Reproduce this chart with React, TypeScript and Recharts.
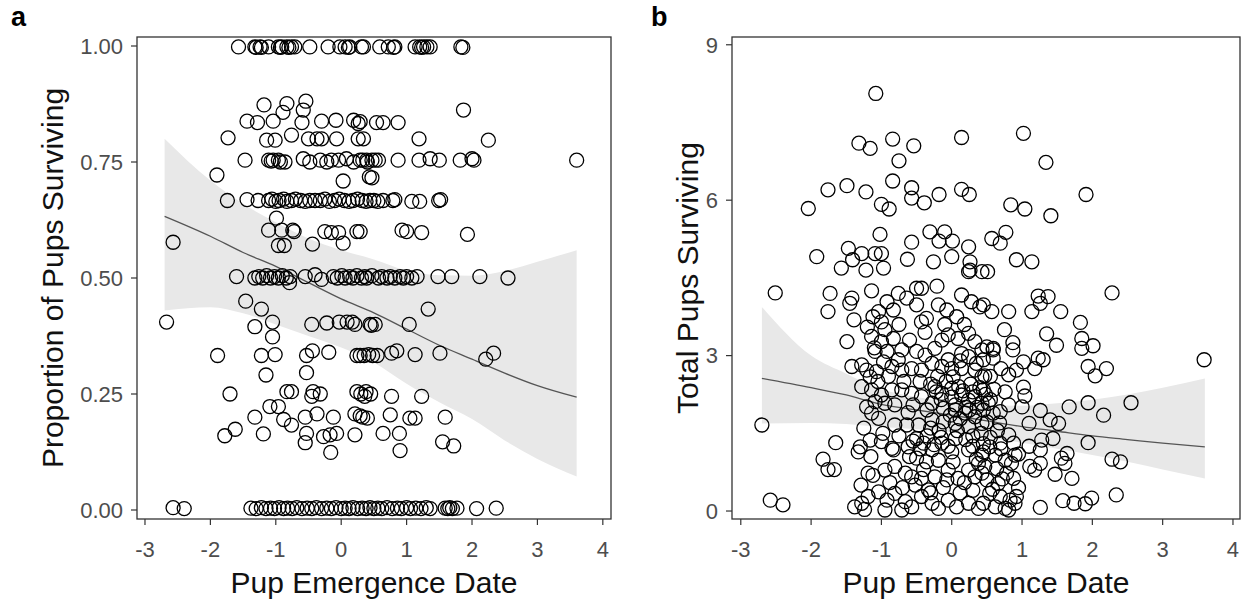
import React from 'react';
import { ComposedChart, Area, Line, Scatter, XAxis, YAxis } from 'recharts';

// emergence date ticks, shared by both panels
const X_TICKS = [-3, -2, -1, 0, 1, 2, 3, 4];
const PROP_TICKS = [0, 0.25, 0.5, 0.75, 1];
const TOTAL_TICKS = [0, 3, 6, 9];

// panel a: proportion of pups surviving vs emergence date [x, y]
const propPoints: [number, number][] = [
  // 1.00 row
  [-1.57, 0.998], [-1.32, 0.998], [-1.3, 0.997], [-1.24, 0.998], [-1.22, 0.997], [-1.11, 0.998], [-0.96, 0.998],
  [-0.93, 0.997], [-0.91, 0.998], [-0.83, 0.998], [-0.8, 0.997], [-0.76, 0.998], [-0.71, 0.998], [-0.48, 0.998],
  [-0.2, 0.998], [-0.02, 0.998], [0.06, 0.998], [0.11, 0.997], [0.13, 0.998], [0.31, 0.998], [0.34, 0.998],
  [0.59, 0.998], [0.72, 0.998], [0.8, 0.997], [0.82, 0.998], [1.13, 0.998], [1.2, 0.998], [1.23, 0.997],
  [1.26, 0.998], [1.31, 0.998], [1.36, 0.998], [1.83, 0.998], [1.86, 0.997],
  // 0.83 - 0.88
  [-1.18, 0.873], [-0.83, 0.876], [-0.54, 0.881], [-0.58, 0.862], [-0.89, 0.857], [1.87, 0.862],
  [-1.44, 0.838], [-1.28, 0.835], [-1.04, 0.838], [-0.6, 0.835], [-0.3, 0.838], [-0.08, 0.84], [0.19, 0.84],
  [0.26, 0.833], [0.29, 0.837], [0.54, 0.835], [0.64, 0.835], [0.87, 0.835],
  // 0.80
  [-1.73, 0.802], [-1.14, 0.797], [-1.01, 0.797], [-0.76, 0.808], [-0.5, 0.8], [-0.37, 0.8], [-0.3, 0.8],
  [-0.07, 0.8], [0.26, 0.8], [0.34, 0.8], [1.19, 0.8], [2.25, 0.797],
  // 0.75
  [-1.47, 0.754], [-1.9, 0.722], [-1.11, 0.754], [-1.07, 0.752], [-1.04, 0.754], [-0.96, 0.754], [-0.93, 0.75],
  [-0.86, 0.75], [-0.58, 0.757], [-0.48, 0.75], [-0.32, 0.754], [-0.22, 0.75], [-0.15, 0.754], [-0.04, 0.754],
  [0.08, 0.757], [0.19, 0.75], [0.29, 0.754], [0.33, 0.754], [0.39, 0.754], [0.4, 0.75], [0.47, 0.754],
  [0.52, 0.754], [0.57, 0.754], [0.03, 0.709], [0.43, 0.718], [0.47, 0.716], [0.87, 0.754], [1.19, 0.754],
  [1.36, 0.757], [1.5, 0.754], [1.82, 0.754], [2.0, 0.757], [2.03, 0.754], [3.6, 0.754],
  // 0.67
  [-1.74, 0.667], [-1.44, 0.669], [-1.27, 0.667], [-1.11, 0.667], [-1.06, 0.67], [-1.0, 0.665], [-0.95, 0.667],
  [-0.88, 0.67], [-0.83, 0.665], [-0.76, 0.667], [-0.7, 0.67], [-0.62, 0.667], [-0.55, 0.665], [-0.48, 0.667],
  [-0.4, 0.667], [-0.32, 0.667], [-0.25, 0.67], [-0.18, 0.665], [-0.1, 0.667], [-0.03, 0.67], [0.05, 0.667],
  [0.12, 0.665], [0.18, 0.667], [0.25, 0.67], [0.32, 0.667], [0.38, 0.665], [0.44, 0.667], [0.5, 0.667],
  [0.56, 0.665], [0.64, 0.667], [0.79, 0.667], [0.82, 0.669], [1.08, 0.665], [1.2, 0.665], [1.49, 0.667],
  [1.52, 0.669],
  // 0.57 - 0.63
  [-0.99, 0.629], [-1.11, 0.603], [-0.91, 0.603], [-0.74, 0.603], [-0.72, 0.6], [-0.96, 0.57], [-0.87, 0.57],
  [-0.44, 0.573], [-0.25, 0.6], [-0.15, 0.598], [-0.04, 0.598], [0.03, 0.575], [0.24, 0.6], [0.29, 0.6],
  [0.93, 0.603], [1.0, 0.6], [1.23, 0.598], [1.93, 0.594], [-2.57, 0.577],
  // 0.50
  [-1.6, 0.503], [-1.32, 0.5], [-1.26, 0.503], [-1.2, 0.5], [-1.14, 0.505], [-1.08, 0.5], [-1.02, 0.503],
  [-0.96, 0.5], [-0.9, 0.505], [-0.84, 0.5], [-0.78, 0.503], [-0.79, 0.49], [-0.55, 0.503], [-0.4, 0.507],
  [-0.3, 0.497], [-0.12, 0.503], [-0.06, 0.5], [0.01, 0.505], [0.06, 0.5], [0.13, 0.503], [0.18, 0.5],
  [0.24, 0.505], [0.31, 0.5], [0.36, 0.503], [0.39, 0.5], [0.47, 0.505], [0.57, 0.5], [0.62, 0.503],
  [0.7, 0.5], [0.75, 0.503], [0.82, 0.5], [0.9, 0.503], [0.95, 0.5], [1.0, 0.503], [1.08, 0.5],
  [1.16, 0.503], [1.48, 0.503], [1.69, 0.503], [2.12, 0.503], [2.55, 0.5],
  // 0.40 - 0.45
  [-1.46, 0.45], [-1.22, 0.433], [1.33, 0.433],
  [-2.67, 0.405], [-1.32, 0.395], [-1.05, 0.405], [-1.05, 0.373], [-0.45, 0.4], [-0.22, 0.403], [-0.03, 0.405],
  [0.09, 0.405], [0.17, 0.405], [0.21, 0.4], [0.44, 0.4], [0.46, 0.398], [0.52, 0.4], [1.04, 0.4],
  // 0.33
  [-1.89, 0.333], [-1.22, 0.333], [-1.01, 0.335], [-0.53, 0.333], [-0.44, 0.343], [-0.19, 0.34], [-0.53, 0.296],
  [-1.15, 0.291], [0.24, 0.333], [0.29, 0.333], [0.35, 0.333], [0.42, 0.335], [0.48, 0.333], [0.55, 0.333],
  [0.77, 0.338], [0.85, 0.343], [1.13, 0.335], [1.51, 0.338], [2.21, 0.325], [2.33, 0.338],
  // 0.25
  [-1.7, 0.25], [-0.83, 0.255], [-0.76, 0.255], [-0.43, 0.255], [-0.32, 0.25], [-0.45, 0.245], [-1.09, 0.223],
  [-0.96, 0.223], [0.24, 0.255], [0.3, 0.25], [0.36, 0.245], [0.38, 0.255], [0.45, 0.25], [0.77, 0.245],
  [1.23, 0.245],
  // 0.12 - 0.21
  [-1.32, 0.2], [-0.88, 0.195], [-0.76, 0.183], [-0.55, 0.2], [-0.37, 0.207], [-0.12, 0.2], [0.21, 0.207],
  [0.29, 0.203], [0.33, 0.2], [0.4, 0.198], [-0.53, 0.165], [-0.27, 0.158], [-0.17, 0.162], [-0.07, 0.165],
  [0.21, 0.162], [-0.55, 0.145], [-0.16, 0.124], [-1.78, 0.16], [-1.62, 0.174], [-1.19, 0.164], [0.75, 0.205],
  [1.05, 0.198], [1.13, 0.198], [0.64, 0.165], [0.89, 0.165], [0.9, 0.128], [1.59, 0.2], [1.55, 0.147],
  [1.72, 0.138],
  // 0.00
  [-2.57, 0.005], [-2.4, 0.003], [-1.38, 0.004], [-1.3, 0.003], [-1.22, 0.005], [-1.15, 0.003], [-1.08, 0.004],
  [-1.02, 0.003], [-0.95, 0.005], [-0.88, 0.003], [-0.82, 0.004], [-0.75, 0.003], [-0.68, 0.005], [-0.6, 0.003],
  [-0.52, 0.004], [-0.45, 0.003], [-0.38, 0.005], [-0.3, 0.003], [-0.22, 0.004], [-0.15, 0.003], [-0.08, 0.005],
  [0.0, 0.003], [0.06, 0.004], [0.12, 0.003], [0.18, 0.005], [0.25, 0.003], [0.32, 0.004], [0.38, 0.003],
  [0.44, 0.005], [0.5, 0.003], [0.56, 0.004], [0.62, 0.003], [0.7, 0.005], [0.78, 0.003], [0.86, 0.004],
  [0.92, 0.003], [1.0, 0.005], [1.06, 0.003], [1.14, 0.004], [1.22, 0.003], [1.3, 0.005], [1.36, 0.003],
  [1.59, 0.004], [1.63, 0.003], [1.66, 0.005], [1.7, 0.003], [1.77, 0.004], [2.07, 0.003], [2.37, 0.004],
];

// panel a: fitted proportion and 95% band
const propFitX = [-2.7, -2, -1.5, -1, -0.5, 0, 0.5, 1, 1.5, 2, 2.5, 3, 3.6];
const propFit = [0.633, 0.59, 0.555, 0.525, 0.49, 0.455, 0.425, 0.39, 0.355, 0.325, 0.295, 0.268, 0.243];
const propLow = [0.43, 0.437, 0.424, 0.4, 0.375, 0.35, 0.318, 0.272, 0.232, 0.196, 0.15, 0.11, 0.072];
const propHigh = [0.8, 0.71, 0.66, 0.62, 0.585, 0.56, 0.54, 0.516, 0.506, 0.505, 0.515, 0.535, 0.56];

// panel b: total pups surviving vs emergence date [x, y]
const totalPoints: [number, number][] = [
  [-1.08, 8.06], [-1.32, 7.1], [-1.16, 7.0], [-0.84, 7.18], [-0.54, 7.05], [-0.75, 6.76], [0.14, 7.21],
  [-1.76, 6.2], [-1.49, 6.28], [-1.22, 6.16], [-0.84, 6.37], [-0.57, 6.24], [-0.57, 6.04], [-0.39, 5.95],
  [-0.18, 6.11], [0.14, 6.21], [0.25, 6.11], [-2.04, 5.84], [-1.0, 5.92], [-0.89, 5.83], [-1.02, 5.34],
  [-0.31, 5.39], [-0.1, 5.39], [-0.18, 5.21], [0.01, 5.21], [-0.57, 5.19], [0.24, 5.1], [-1.92, 4.91],
  [-1.47, 5.07], [-1.28, 4.97], [-1.41, 4.85], [-1.09, 4.97], [-1.0, 4.97], [-0.63, 4.86], [-0.26, 4.81],
  [0.0, 4.91], [0.26, 4.81], [0.26, 4.65], [-1.57, 4.69], [-1.22, 4.65], [-0.97, 4.69],
  [1.02, 7.29], [1.34, 6.73], [1.91, 6.11], [0.84, 5.91], [1.04, 5.83], [1.41, 5.7], [0.57, 5.26],
  [0.77, 5.38], [0.69, 5.17], [0.92, 4.85], [1.14, 4.81], [0.51, 4.62],
  [-2.51, 4.21], [-1.73, 4.2], [-1.76, 3.85], [-1.42, 4.11], [-1.45, 4.01], [-1.39, 3.69], [-1.14, 4.25],
  [-1.49, 3.27], [-1.42, 2.79], [-2.7, 1.66], [-1.65, 1.32], [-1.83, 1.0], [-1.76, 0.8], [-1.67, 0.8],
  [-2.58, 0.21], [-2.4, 0.12], [-1.28, 0.15], [-1.38, 0.08], [-1.24, 0.03], [-1.29, 0.5], [-1.19, 0.73],
  [-1.3, 1.24], [-1.33, 1.14], [-1.16, 1.37], [-1.0, 1.34], [-0.83, 1.18],
  // 3.7 - 4.6
  [-0.92, 4.04], [-0.76, 4.2], [-0.64, 4.11], [-0.5, 4.3], [-0.43, 4.3], [-0.21, 4.34], [-0.5, 3.98],
  [-1.04, 3.85], [-1.12, 3.75], [-0.83, 3.88], [-1.0, 3.65], [-0.43, 3.65], [-0.36, 3.72], [-0.19, 3.98],
  [-0.07, 3.88], [0.07, 3.75], [0.14, 4.17], [0.28, 4.04], [0.4, 3.94], [0.24, 4.62], [0.43, 4.62],
  // 2.6 - 3.4
  [-1.14, 3.37], [-1.0, 3.27], [-0.83, 3.33], [-0.71, 3.11], [-1.09, 3.08], [-0.92, 3.08], [-0.76, 2.92],
  [-0.5, 3.08], [-0.38, 3.01], [-0.24, 3.14], [-0.14, 3.3], [-0.05, 3.4], [0.09, 3.33], [0.24, 3.43],
  [0.33, 3.27], [0.43, 3.11], [-0.28, 2.85], [-0.14, 2.79], [-0.43, 2.72], [-0.57, 2.75], [-0.71, 2.72],
  [-0.85, 2.79], [-0.97, 2.88], [-1.07, 2.69], [-1.21, 2.72], [-1.28, 2.82], [-1.16, 2.59], [-0.05, 2.92],
  [0.14, 3.04], [0.24, 2.98], [0.14, 2.75], [0.33, 2.72], [0.43, 2.59], [0.02, 2.59],
  // 1.6 - 2.5
  [-1.28, 2.4], [-1.14, 2.34], [-1.0, 2.24], [-0.85, 2.34], [-1.09, 2.11], [-1.21, 2.01], [-0.95, 2.08],
  [-0.81, 2.05], [-1.14, 1.89], [-1.04, 1.79], [-0.71, 2.34], [-0.57, 2.27], [-0.43, 2.21], [-0.24, 2.4],
  [-0.14, 2.27], [0.0, 2.37], [0.14, 2.24], [0.24, 2.14], [0.33, 2.21], [0.43, 2.08], [-0.28, 2.08],
  [-0.12, 1.98], [0.05, 1.95], [0.19, 1.89], [0.33, 1.82], [0.05, 1.69], [-0.81, 1.66], [-0.64, 1.66],
  [-0.47, 1.66], [-0.28, 1.76], [-0.12, 1.72], [0.24, 1.63], [0.43, 1.69],
  [-0.3, 2.45], [-0.22, 2.3], [-0.15, 2.15], [-0.08, 2.5], [0.0, 2.2], [0.05, 2.05], [0.1, 2.4],
  [0.16, 2.32], [0.2, 2.0], [0.27, 2.45], [0.3, 2.3], [0.36, 2.0], [0.4, 2.38], [0.48, 2.25],
  [0.55, 2.15], [0.6, 2.35], [-0.35, 1.95], [-0.02, 1.85], [0.12, 1.78], [0.25, 1.95],
  // 0.55 - 1.45
  [-0.85, 1.21], [-0.62, 1.24], [-0.5, 1.4], [-0.4, 1.31], [-0.28, 1.18], [-0.14, 1.31], [0.0, 1.14],
  [0.24, 1.18], [0.43, 1.08], [-0.5, 1.02], [-0.36, 0.95], [-0.19, 0.98], [-0.05, 0.79], [0.24, 0.79],
  [0.38, 0.92], [-0.81, 0.86], [-0.66, 0.73], [-0.95, 0.79], [-1.12, 0.69], [-0.57, 0.66], [-0.43, 0.63],
  [-0.24, 0.66], [-0.07, 0.6], [0.09, 0.63], [0.33, 0.66], [0.43, 0.73],
  [-0.55, 1.35], [-0.45, 1.2], [-0.35, 1.45], [-0.25, 1.28], [-0.15, 1.42], [-0.05, 1.25], [0.05, 1.4],
  [-0.6, 1.05], [0.2, 1.38], [0.3, 1.25], [0.45, 1.3], [0.55, 1.42], [0.7, 1.2], [0.95, 1.1],
  [1.1, 1.25], [0.85, 0.92],
  // 0 - 0.45
  [-1.19, 0.28], [-1.04, 0.37], [-0.92, 0.21], [-0.81, 0.34], [-0.66, 0.18], [-0.57, 0.08], [-0.43, 0.28],
  [-0.28, 0.15], [-0.19, 0.05], [-0.05, 0.21], [0.07, 0.08], [0.24, 0.15], [0.38, 0.05], [-0.95, 0.02],
  [-0.71, 0.02], [-0.33, 0.41],
  // denser core
  [-1.2, 3.55], [-1.1, 3.15], [-0.95, 3.5], [-0.9, 2.6], [-0.75, 3.6], [-0.68, 2.5], [-0.6, 3.3],
  [-0.55, 2.05], [-0.45, 2.5], [-0.38, 3.45], [-0.3, 1.6], [-0.2, 2.6], [-0.1, 3.6], [0.0, 2.75],
  [0.08, 1.55], [0.12, 2.9], [0.18, 3.6], [0.3, 1.45], [0.35, 2.85], [0.42, 1.5], [0.55, 2.6],
  [0.65, 1.55], [0.7, 2.75], [0.75, 3.5], [-1.25, 1.6], [-1.15, 1.05], [-0.98, 1.5], [-0.88, 0.55],
  [-0.75, 1.45], [-0.7, 0.45], [-0.52, 0.5], [-0.4, 0.8], [-0.3, 0.35], [-0.12, 0.45], [0.02, 0.95],
  [0.12, 0.35], [0.18, 0.55], [0.3, 0.4], [0.35, 1.0], [0.58, 0.42], [0.72, 0.62], [0.95, 0.45],
  [-1.05, 2.5], [-0.62, 1.9], [-0.18, 1.55], [0.68, 1.7],
  // right half
  [2.28, 4.21], [3.59, 2.92], [1.23, 4.15], [1.37, 4.14], [1.26, 4.01], [1.14, 3.85], [1.55, 3.85],
  [0.81, 3.85], [0.57, 3.85], [1.83, 3.64], [1.35, 3.42], [1.49, 3.2], [1.85, 3.33], [2.01, 3.19],
  [1.85, 3.14], [0.87, 3.25], [0.87, 3.11], [0.59, 3.14], [0.59, 2.95], [1.02, 2.88], [1.23, 2.95],
  [1.18, 2.75], [1.3, 2.92], [1.94, 2.79], [2.04, 2.61], [2.2, 2.75], [0.81, 2.63], [0.92, 2.72],
  [0.47, 2.61], [0.76, 2.3], [1.02, 2.39], [1.04, 2.22], [1.94, 2.09], [1.67, 2.01], [2.16, 1.85],
  [2.55, 2.09], [0.81, 2.05], [1.0, 2.01], [1.26, 1.94], [1.4, 1.76], [1.52, 1.69], [1.1, 1.69],
  [1.44, 1.4], [1.28, 1.37], [1.26, 1.18], [1.94, 1.32], [2.28, 1.0], [2.4, 0.95], [1.56, 1.02],
  [1.64, 1.11], [1.61, 0.92], [1.11, 0.86], [1.18, 0.79], [1.26, 0.92], [1.47, 0.71], [1.71, 0.63],
  [2.34, 0.31], [1.58, 0.2], [1.74, 0.15], [1.9, 0.14], [1.99, 0.25], [1.26, 0.07], [0.81, 0.02],
  [0.45, 3.98], [0.5, 3.17], [0.59, 3.11], [0.45, 2.92], [0.45, 2.34], [0.52, 2.08], [0.45, 1.95],
  [0.59, 1.89], [0.5, 1.72], [0.69, 1.92], [0.81, 1.47], [0.88, 1.31], [0.69, 1.31], [0.54, 1.24],
  [0.45, 1.14], [0.62, 1.08], [0.76, 0.98], [0.9, 1.08], [0.47, 0.86], [0.64, 0.82], [0.78, 0.73],
  [0.88, 0.63], [0.5, 0.6], [0.66, 0.53], [0.54, 0.34], [0.69, 0.28], [0.83, 0.21], [0.92, 0.28],
  [0.45, 0.15], [0.62, 0.08], [0.76, 0.05], [0.9, 0.15],
];

// panel b: fitted total and 95% band
const totalFitX = [-2.7, -2, -1.5, -1, -0.5, 0, 0.5, 1, 1.5, 2, 2.5, 3, 3.6];
const totalFit = [2.56, 2.38, 2.24, 2.06, 1.95, 1.85, 1.74, 1.63, 1.54, 1.45, 1.38, 1.31, 1.24];
const totalLow = [1.69, 1.7, 1.68, 1.62, 1.58, 1.52, 1.42, 1.32, 1.2, 1.08, 0.95, 0.8, 0.63];
const totalHigh = [3.94, 3.0, 2.65, 2.35, 2.2, 2.1, 2.05, 2.03, 2.08, 2.15, 2.25, 2.38, 2.56];

const FONT = '"Liberation Sans", Arial, sans-serif';
const TICK_STYLE = { fontSize: 22, fill: '#4d4d4d', fontFamily: FONT };

const Circle = (props: any) => (
  <circle cx={props.cx} cy={props.cy} r={7} fill="none" stroke="#000" strokeWidth={1.3} />
);

type PanelProps = {
  left: number;
  width: number;
  marginLeft: number;
  marginRight: number;
  xDomain: [number, number];
  yDomain: [number, number];
  yTicks: number[];
  yFormat: (v: number) => string;
  points: [number, number][];
  fitX: number[];
  fit: number[];
  low: number[];
  high: number[];
};

const Panel = (p: PanelProps) => {
  const band = p.fitX.map((x, i) => ({ x, fit: p.fit[i], band: [p.low[i], p.high[i]] }));
  const pts = p.points.map(([x, y]) => ({ x, y }));
  return (
    <div style={{ position: 'absolute', left: p.left, top: 0 }}>
      <ComposedChart
        width={p.width}
        height={603}
        data={band}
        margin={{ top: 37, right: p.marginRight, bottom: 4, left: p.marginLeft }}
      >
        <XAxis
          dataKey="x"
          type="number"
          domain={p.xDomain}
          ticks={X_TICKS}
          allowDataOverflow
          height={80}
          axisLine={false}
          tickLine={{ stroke: '#333', strokeWidth: 1.2 }}
          tickSize={6}
          tickMargin={16}
          tick={TICK_STYLE}
        />
        <YAxis
          type="number"
          domain={p.yDomain}
          ticks={p.yTicks}
          allowDataOverflow
          width={60}
          axisLine={false}
          tickLine={{ stroke: '#333', strokeWidth: 1.2 }}
          tickSize={6}
          tickMargin={8}
          tick={TICK_STYLE}
          tickFormatter={p.yFormat}
        />
        <Area dataKey="band" type="monotone" stroke="none" fill="#e8e8e8" fillOpacity={1} isAnimationActive={false} />
        <Scatter data={pts} dataKey="y" shape={Circle} isAnimationActive={false} />
        <Line dataKey="fit" type="monotone" stroke="#555" strokeWidth={1.3} dot={false} isAnimationActive={false} />
      </ComposedChart>
    </div>
  );
};

export default function App() {
  return (
    <div style={{ position: 'absolute', left: 0, top: 0, width: 1247, height: 603, background: '#fff', fontFamily: FONT }}>
      <Panel
        left={0}
        width={620}
        marginLeft={77}
        marginRight={9}
        xDomain={[-3.122, 4.125]}
        yDomain={[-0.0194, 1.0194]}
        yTicks={PROP_TICKS}
        yFormat={(v) => v.toFixed(2)}
        points={propPoints}
        fitX={propFitX}
        fit={propFit}
        low={propLow}
        high={propHigh}
      />
      <Panel
        left={625}
        width={622}
        marginLeft={47}
        marginRight={7}
        xDomain={[-3.125, 4.1]}
        yDomain={[-0.154, 9.15]}
        yTicks={TOTAL_TICKS}
        yFormat={(v) => String(v)}
        points={totalPoints}
        fitX={totalFitX}
        fit={totalFit}
        low={totalLow}
        high={totalHigh}
      />
      {/* panel frames, titles and panel letters */}
      <svg width={1247} height={603} style={{ position: 'absolute', left: 0, top: 0, pointerEvents: 'none' }}>
        <rect x={137} y={37} width={474} height={482} fill="none" stroke="#333" strokeWidth={1.3} />
        <rect x={732} y={37} width={508} height={482} fill="none" stroke="#333" strokeWidth={1.3} />
        <text x={11} y={26} fontSize={27} fontWeight="bold" fill="#000" fontFamily={FONT}>a</text>
        <text x={651} y={26} fontSize={27} fontWeight="bold" fill="#000" fontFamily={FONT}>b</text>
        <text x={374} y={593} fontSize={30} textAnchor="middle" fill="#111" fontFamily={FONT}>Pup Emergence Date</text>
        <text x={986} y={593} fontSize={30} textAnchor="middle" fill="#111" fontFamily={FONT}>Pup Emergence Date</text>
        <text x={63} y={278} fontSize={30} textAnchor="middle" fill="#111" fontFamily={FONT} transform="rotate(-90, 63, 278)">
          Proportion of Pups Surviving
        </text>
        <text x={698} y={278} fontSize={30} textAnchor="middle" fill="#111" fontFamily={FONT} transform="rotate(-90, 698, 278)">
          Total Pups Surviving
        </text>
      </svg>
    </div>
  );
}
